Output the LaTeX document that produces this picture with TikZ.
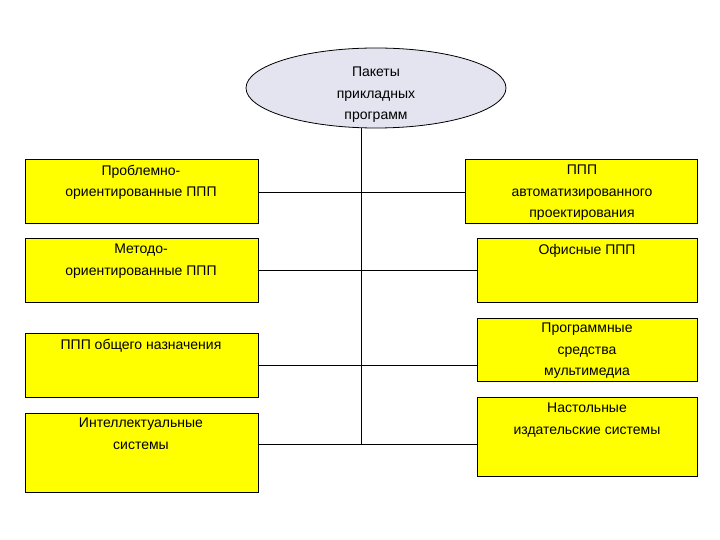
\documentclass[tikz,border=0pt]{standalone}
\usepackage{fontspec}
\setmainfont{Liberation Sans}
\usetikzlibrary{shapes.geometric}
\definecolor{ell}{RGB}{228,228,240}
\definecolor{yel}{RGB}{255,255,0}
\begin{document}
\begin{tikzpicture}[x=1pt,y=-1pt,
  box/.style={draw=black,fill=yel,line width=0.8pt},
  txt/.style={anchor=north,align=center,font=\fontsize{14}{21.5}\selectfont,inner sep=0pt},
  ln/.style={draw=black,line width=0.8pt}]
\useasboundingbox (0,0) rectangle (720,540);
\node[ellipse,draw=black,fill=ell,minimum width=260,minimum height=80,line width=0.8pt] (top) at (376,88) {};
\node[txt] (tt) at (376,67) {Пакеты\\прикладных\\программ};
% left boxes
\path[box] (25,159) rectangle (258,223); \coordinate (l1) at (258,192);
\path[box] (25,238) rectangle (258,302); \coordinate (l2) at (258,270);
\path[box] (25,333) rectangle (258,397); \coordinate (l3) at (258,365);
\path[box] (25,413) rectangle (258,492); \coordinate (l4) at (258,444);
% right boxes
\path[box] (465,159) rectangle (697,223); \coordinate (r1) at (465,192);
\path[box] (477,238) rectangle (697,302); \coordinate (r2) at (477,270);
\path[box] (477,318) rectangle (697,381); \coordinate (r3) at (477,365);
\path[box] (477,397) rectangle (697,476); \coordinate (r4) at (477,444);
\node[txt] (t1) at (141,165) {Проблемно-\\ориентированные ППП};
\node[txt] (t2) at (141,244) {Методо-\\ориентированные ППП};
\node[txt] (t3) at (141,339) {ППП общего назначения};
\node[txt] (t4) at (141,418) {Интеллектуальные\\системы};
\node[txt] (u1) at (582,165) {ППП\\автоматизированного\\проектирования};
\node[txt] (u2) at (587,244) {Офисные ППП};
\node[txt] (u3) at (587,323) {Программные\\средства\\мультимедиа};
\node[txt] (u4) at (587,403) {Настольные\\издательские системы};
\coordinate (c1) at (361,192); \coordinate (c2) at (361,270);
\coordinate (c3) at (361,365); \coordinate (c4) at (361,444);
\draw[ln] (top.south -| c1) -- (c4);
\draw[ln] (l1) -- (r1);
\draw[ln] (l2) -- (r2);
\draw[ln] (l3) -- (r3);
\draw[ln] (l4) -- (r4);
\end{tikzpicture}
\end{document}
